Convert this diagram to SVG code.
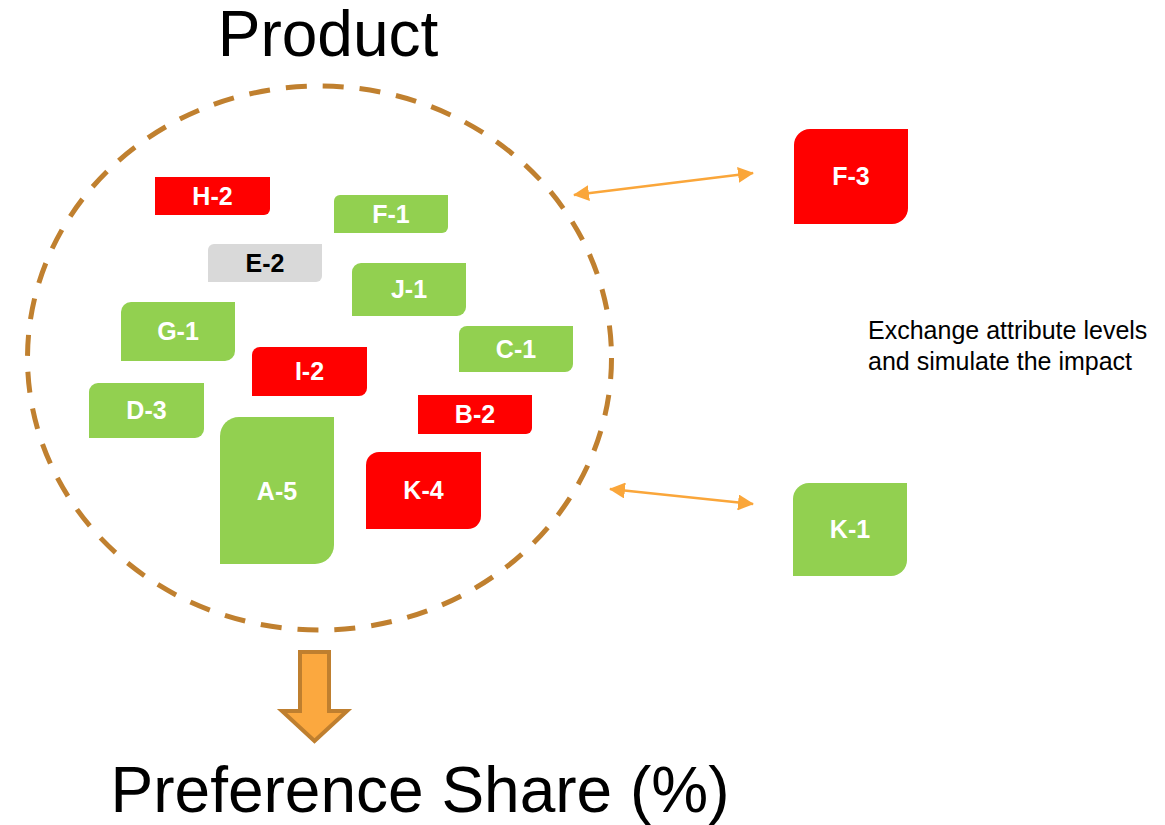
<svg xmlns="http://www.w3.org/2000/svg" width="1165" height="825" viewBox="0 0 1165 825">
  <defs>
    <style>
      .lbl { font-family: "Liberation Sans", Arial, sans-serif; font-weight: bold; font-size: 25px; fill: #ffffff; text-anchor: middle; }
      .lbl.dark { fill: #000000; }
      .red { fill: #ff0000; }
      .green { fill: #92d050; }
      .gray { fill: #d9d9d9; }
      .title { font-family: "Liberation Sans", Arial, sans-serif; font-size: 64px; fill: #000000; text-anchor: middle; }
      .note { font-family: "Liberation Sans", Arial, sans-serif; font-size: 25px; fill: #000000; }
      .link { stroke: #faa63a; stroke-width: 2.4; fill: none; }
    </style>
    <marker id="head" viewBox="0 0 16 16" refX="15" refY="8" markerWidth="16" markerHeight="16" markerUnits="userSpaceOnUse" orient="auto-start-reverse">
      <path d="M0,0 L16,8 L0,16 Z" fill="#faa63a"/>
    </marker>
  </defs>

  <rect width="1165" height="825" fill="#ffffff"/>

  <!-- headings -->
  <text class="title" x="328" y="56">Product</text>
  <text class="title" x="420" y="812">Preference Share (%)</text>

  <!-- product boundary -->
  <ellipse cx="319.5" cy="358" rx="292" ry="272" fill="none" stroke="#c0802f" stroke-width="5" stroke-dasharray="21 16"/>

  <!-- attribute levels -->
  <g id="node-h2"><path class="red" d="M155,177 H270 V209 A6,6 0 0 1 264,215 H155 Z"/><text class="lbl" x="212.5" y="205">H-2</text></g>
  <g id="node-f1"><path class="green" d="M340,195 H448 V227 A6,6 0 0 1 442,233 H334 V201 A6,6 0 0 1 340,195 Z"/><text class="lbl" x="391" y="223">F-1</text></g>
  <g id="node-e2"><path class="gray" d="M214,244 H322 V276 A6,6 0 0 1 316,282 H208 V250 A6,6 0 0 1 214,244 Z"/><text class="lbl dark" x="265" y="272">E-2</text></g>
  <g id="node-j1"><path class="green" d="M361,263 H466 V307 A9,9 0 0 1 457,316 H352 V272 A9,9 0 0 1 361,263 Z"/><text class="lbl" x="409" y="298">J-1</text></g>
  <g id="node-g1"><path class="green" d="M131,302 H235 V351 A10,10 0 0 1 225,361 H121 V312 A10,10 0 0 1 131,302 Z"/><text class="lbl" x="178" y="340">G-1</text></g>
  <g id="node-i2"><path class="red" d="M260,347 H367 V388 A8,8 0 0 1 359,396 H252 V355 A8,8 0 0 1 260,347 Z"/><text class="lbl" x="309.5" y="380">I-2</text></g>
  <g id="node-c1"><path class="green" d="M467,326 H573 V364 A8,8 0 0 1 565,372 H459 V334 A8,8 0 0 1 467,326 Z"/><text class="lbl" x="516" y="358">C-1</text></g>
  <g id="node-d3"><path class="green" d="M98,383 H204 V429 A9,9 0 0 1 195,438 H89 V392 A9,9 0 0 1 98,383 Z"/><text class="lbl" x="146.5" y="419">D-3</text></g>
  <g id="node-b2"><path class="red" d="M418,395 H532 V428 A6,6 0 0 1 526,434 H418 Z"/><text class="lbl" x="475" y="423">B-2</text></g>
  <g id="node-a5"><path class="green" d="M239,417 H334 V545 A19,19 0 0 1 315,564 H220 V436 A19,19 0 0 1 239,417 Z"/><text class="lbl" x="277" y="500">A-5</text></g>
  <g id="node-k4"><path class="red" d="M379,452 H481 V516 A13,13 0 0 1 468,529 H366 V465 A13,13 0 0 1 379,452 Z"/><text class="lbl" x="423.5" y="499">K-4</text></g>

  <!-- alternative levels -->
  <g id="node-f3"><path class="red" d="M810,129 H908 V208 A16,16 0 0 1 892,224 H794 V145 A16,16 0 0 1 810,129 Z"/><text class="lbl" x="851" y="185">F-3</text></g>
  <g id="node-k1"><path class="green" d="M809,483 H907 V560 A16,16 0 0 1 891,576 H793 V499 A16,16 0 0 1 809,483 Z"/><text class="lbl" x="850" y="538">K-1</text></g>

  <!-- exchange links -->
  <g id="connectors">
    <line class="link" x1="574" y1="195" x2="753" y2="173" marker-start="url(#head)" marker-end="url(#head)"/>
    <line class="link" x1="610" y1="489" x2="753" y2="504" marker-start="url(#head)" marker-end="url(#head)"/>
  </g>

  <text class="note" x="868" y="339">Exchange attribute levels</text>
  <text class="note" x="868" y="370">and simulate the impact</text>

  <!-- result arrow -->
  <g id="result-arrow">
    <path d="M300,652 H329 V711 H347 L314.5,741 L282,711 H300 Z" fill="#fba83f" stroke="#bf7f2f" stroke-width="4" stroke-linejoin="miter"/>
  </g>
</svg>
